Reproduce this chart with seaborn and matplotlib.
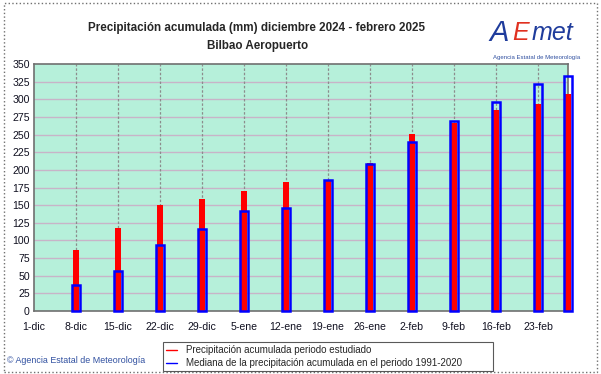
import matplotlib
matplotlib.use("Agg")
import matplotlib.pyplot as plt
import matplotlib.patches as mpatches
from matplotlib.lines import Line2D
import seaborn as sns
import pandas as pd

# dias desde el 1-dic
dias = [7, 14, 21, 28, 35, 42, 49, 56, 63, 70, 77, 84, 89]
prec_periodo = [86, 118, 150, 159, 170, 183, 184, 210, 251, 267, 285, 293, 307]
prec_mediana = [37, 57, 93, 116, 142, 146, 185, 208, 239, 269, 296, 322, 333]

tick_dias = [0, 7, 14, 21, 28, 35, 42, 49, 56, 63, 70, 77, 84]
tick_labels = ['1-dic', '8-dic', '15-dic', '22-dic', '29-dic', '5-ene', '12-ene',
               '19-ene', '26-ene', '2-feb', '9-feb', '16-feb', '23-feb']

df = pd.DataFrame({'dia': dias, 'periodo': prec_periodo, 'mediana': prec_mediana})

sns.set_style("white")
plt.rcParams['font.family'] = ['Liberation Sans', 'DejaVu Sans']

fig = plt.figure(figsize=(6.01, 3.74), dpi=100)
ax = fig.add_axes([0.0566, 0.1684, 0.8884, 0.6605])
ax.set_facecolor('#b6f0da')

# precipitacion del periodo (relleno rojo)
sns.barplot(data=df, x='dia', y='periodo', native_scale=True, width=0.2,
            color='#ff0000', saturation=1, errorbar=None, ax=ax, zorder=3)
# mediana 1991-2020 (solo contorno azul)
sns.barplot(data=df, x='dia', y='mediana', native_scale=True, width=0.24,
            fill=False, edgecolor='#0000ff', linewidth=1.6, errorbar=None, ax=ax, zorder=4)

n = len(dias)
for i, p in enumerate(ax.patches):
    w = 1.0 if i < n else 1.2
    cx = p.get_x() + p.get_width() / 2
    p.set_x(cx - w / 2)
    p.set_width(w)
    p.set_clip_on(False)
    if i >= n:
        p.set_facecolor('none')
        p.set_edgecolor('#0000ff')
        p.set_linewidth(1.8)
    else:
        p.set_linewidth(0)

ax.set_xlim(0, 89)
ax.set_ylim(0, 350)
ax.set_yticks(range(0, 351, 25))
ax.set_xticks(tick_dias)
ax.set_xticklabels(tick_labels)
ax.set_xlabel('')
ax.set_ylabel('')
ax.tick_params(length=0, labelsize=7.6, colors='#101020')
ax.tick_params(axis='x', pad=8)
ax.tick_params(axis='y', pad=3)

for y in range(25, 350, 25):
    ax.axhline(y, color='#c8b4c8', lw=1, zorder=1)
for x in tick_dias[1:]:
    ax.axvline(x, color='#8c8c8c', lw=0.9, ls=(0, (2, 1.5)), zorder=1)
for s in ax.spines.values():
    s.set_color('#707070')
    s.set_linewidth(1.2)

fig.text(0.426, 0.925, 'Precipitación acumulada (mm) diciembre 2024 - febrero 2025',
         ha='center', va='center', fontsize=8.4, fontweight='bold')
fig.text(0.428, 0.878, 'Bilbao Aeropuerto', ha='center', va='center',
         fontsize=8.4, fontweight='bold')

# logo
fig.text(0.815, 0.912, 'A', color='#1f3c9c', fontsize=21, style='italic', va='center')
fig.text(0.853, 0.912, 'E', color='#e03020', fontsize=18, style='italic', va='center')
fig.text(0.885, 0.912, 'met', color='#1f3c9c', fontsize=18, style='italic', va='center')
fig.text(0.893, 0.847, 'Agencia Estatal de Meteorología', color='#3050a0',
         fontsize=4.3, ha='center', va='center')

fig.text(0.012, 0.035, '© Agencia Estatal de Meteorología', color='#3050a0',
         fontsize=6.4, va='center')

handles = [Line2D([], [], color='#ff0000', lw=1),
           Line2D([], [], color='#0000ff', lw=1)]
leg = fig.legend(handles, ['Precipitación acumulada periodo estudiado',
                           'Mediana de la precipitación acumulada en el periodo 1991-2020'],
                 loc='lower left', bbox_to_anchor=(0.271, 0.008, 0.549, 0.092), mode='expand',
                 fontsize=7.0, frameon=True, fancybox=False, handlelength=1.2,
                 handletextpad=0.9, borderpad=0.3, labelspacing=0.3, borderaxespad=0)
leg.get_frame().set_edgecolor('#303030')
leg.get_frame().set_linewidth(0.8)

fig.patches.append(mpatches.Rectangle((0.006, 0.006), 0.988, 0.986, transform=fig.transFigure,
                                      fill=False, ec='#707070', lw=1, ls=':'))

fig.savefig('out.png', dpi=100)
